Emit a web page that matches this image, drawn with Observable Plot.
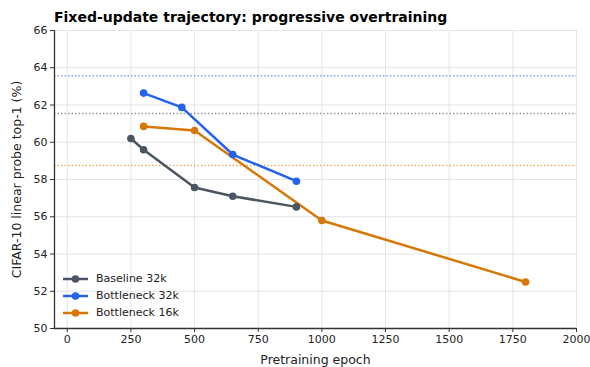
<!DOCTYPE html>
<html>
<head>
<meta charset="utf-8">
<script src="https://cdn.jsdelivr.net/npm/d3@7"></script>
<script src="https://cdn.jsdelivr.net/npm/@observablehq/plot@0.6"></script>
<style>
  html, body { margin: 0; padding: 0; background: #fff; }
  #wrap { position: relative; width: 590px; height: 367px; font-family: "DejaVu Sans", sans-serif; }
  #title { position: absolute; left: 54px; top: 9px; font-size: 14px; font-weight: bold; line-height: 16px; color: #000; white-space: nowrap; }
  #legend { position: absolute; left: 63px; top: 270px; font-size: 11px; color: #222; }
  .row { display: flex; align-items: center; height: 17px; }
  .row svg { margin-right: 8px; }
  #chart svg text { font-family: "DejaVu Sans", sans-serif; }
  #chart svg g[aria-label$="tick label"] text { font-size: 11px !important; }
  #chart svg g[aria-label="x-axis label"] text, #chart svg g[aria-label="y-axis label"] text { font-size: 12.5px !important; }
</style>
</head>
<body>
<div id="wrap">
  <div id="title">Fixed-update trajectory: progressive overtraining</div>
  <div id="chart"></div>
  <div id="legend"></div>
</div>
<script>
const seriesNames = ["Baseline 32k", "Bottleneck 32k", "Bottleneck 16k"];
const seriesColors = ["#4b5563", "#2563eb", "#d97706"];

const baselineEpochs = [250, 300, 500, 650, 900];
const baselineAcc = [60.2, 59.6, 57.57, 57.1, 56.53];

const bn32Epochs = [300, 450, 650, 900];
const bn32Acc = [62.64, 61.87, 59.34, 57.91];

const bn16Epochs = [300, 500, 1000, 1800];
const bn16Acc = [60.85, 60.63, 55.8, 52.5];

const refSeries = ["Bottleneck 32k", "Baseline 32k", "Bottleneck 16k"];
const refLevels = [63.57, 61.55, 58.75];

const xTicks = [0, 250, 500, 750, 1000, 1250, 1500, 1750, 2000];
const yTicks = [50, 52, 54, 56, 58, 60, 62, 64, 66];

const rows = [];
[[baselineEpochs, baselineAcc], [bn32Epochs, bn32Acc], [bn16Epochs, bn16Acc]].forEach(([xs, ys], i) => {
  xs.forEach((x, j) => rows.push({series: seriesNames[i], epoch: x, acc: ys[j]}));
});
const refs = refLevels.map((v, i) => ({series: refSeries[i], acc: v}));

const chart = Plot.plot({
  width: 590,
  height: 367,
  marginTop: 30,
  marginBottom: 39,
  marginLeft: 54,
  marginRight: 14,
  style: {fontFamily: "DejaVu Sans, sans-serif", fontSize: "11px", color: "#222", background: "#fff", overflow: "visible"},
  x: {domain: [-50, 2000]},
  y: {domain: [50, 66]},
  color: {domain: seriesNames, range: seriesColors},
  marks: [
    Plot.gridX(xTicks, {stroke: "#e3e5ea", strokeOpacity: 1, strokeWidth: 1}),
    Plot.gridY(yTicks, {stroke: "#e3e5ea", strokeOpacity: 1, strokeWidth: 1}),
    Plot.ruleY(refs, {y: "acc", stroke: "series", strokeOpacity: 0.6, strokeWidth: 1.5, strokeDasharray: "1.5,2"}),
    Plot.ruleX([-50], {stroke: "#333", strokeWidth: 1.3}),
    Plot.ruleY([50], {stroke: "#333", strokeWidth: 1.3}),
    Plot.axisX({ticks: xTicks, tickFormat: d => String(d), tickSize: 4, tickPadding: 3, fontSize: 11, label: "Pretraining epoch", labelAnchor: "center", labelArrow: "none", labelOffset: 35, stroke: "#333"}),
    Plot.axisY({ticks: yTicks, tickFormat: d => String(d), tickSize: 4, tickPadding: 3, fontSize: 11, label: "CIFAR-10 linear probe top-1 (%)", labelAnchor: "center", labelArrow: "none", labelOffset: 42, stroke: "#333"}),
    Plot.line(rows, {x: "epoch", y: "acc", stroke: "series", z: "series", strokeWidth: 2.5}),
    Plot.dot(rows, {x: "epoch", y: "acc", fill: "series", r: 3.8})
  ]
});
document.getElementById("chart").appendChild(chart);

const legend = document.getElementById("legend");
seriesNames.forEach((name, i) => {
  const row = document.createElement("div");
  row.className = "row";
  row.innerHTML = `<svg width="25" height="10"><line x1="0" y1="5" x2="25" y2="5" stroke="${seriesColors[i]}" stroke-width="2.5"/><circle cx="12.5" cy="5" r="3.8" fill="${seriesColors[i]}"/></svg><span>${name}</span>`;
  legend.appendChild(row);
});
</script>
</body>
</html>
